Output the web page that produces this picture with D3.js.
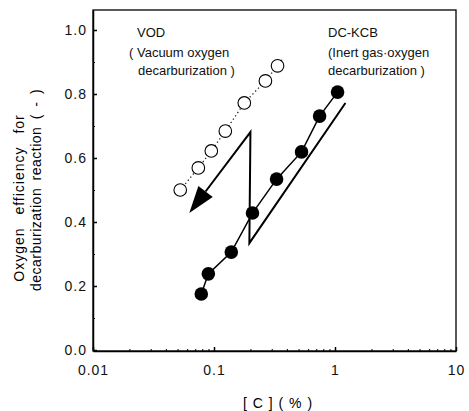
<!DOCTYPE html>
<meta charset="utf-8">
<style>
body { margin: 0; background: #fff; font-family: Arial, "Liberation Sans", Helvetica, sans-serif; }
.axis path, .axis line { fill: none; stroke: #000; stroke-width: 1.5; }
.axis text { font-size: 14px; letter-spacing: 1px; fill: #111; }
.minor line { stroke-width: 1; }
.minor path { display: none; }
.note { font-size: 13px; fill: #111; }
</style>
<body>
<script src="https://d3js.org/d3.v7.min.js"></script>
<script>

// VOD (open circles)
var vodC = [0.0526, 0.0742, 0.095, 0.124, 0.178, 0.266, 0.335];
var vodEff = [0.50, 0.569, 0.622, 0.684, 0.772, 0.841, 0.888];

// DC-KCB (filled circles)
var kcbC = [0.0785, 0.0898, 0.139, 0.208, 0.329, 0.529, 0.746, 1.05];
var kcbEff = [0.175, 0.238, 0.306, 0.428, 0.534, 0.619, 0.731, 0.806];

// the Z shaped arrow, in data units
var arrowC = [1.22, 0.196, 0.2, 0.0625];
var arrowEff = [0.772, 0.334, 0.681, 0.428];

var xTicks = [0.01, 0.1, 1, 10];
var xTickLabels = ["0.01", "0.1", "1", "10"];
var yTicks = [0, 0.2, 0.4, 0.6, 0.8, 1.0];
var yTickLabels = ["0.0", "0.2", "0.4", "0.6", "0.8", "1.0"];

var width = 469, height = 411;
var frame = {left: 93, right: 456, top: 10, bottom: 351};

var x = d3.scaleLog().domain([0.01, 10]).range([frame.left, frame.right]);
var y = d3.scaleLinear().domain([0, 1.0625]).range([350, frame.top]);

var svg = d3.select("body").append("svg")
    .attr("width", width)
    .attr("height", height);

// frame
svg.append("rect")
    .attr("x", frame.left).attr("y", frame.top)
    .attr("width", frame.right - frame.left).attr("height", frame.bottom - frame.top)
    .attr("fill", "none").attr("stroke", "#000").attr("stroke-width", 1.3);

// minor ticks
var minorX = [];
[0.01, 0.1, 1].forEach(function(d) {
  for (var k = 2; k < 10; k++) minorX.push(d * k);
});
svg.append("g")
    .attr("class", "axis minor")
    .attr("transform", "translate(0," + frame.bottom + ")")
    .call(d3.axisBottom(x).tickValues(minorX).tickSize(-2).tickFormat(""));
svg.append("g")
    .attr("class", "axis minor")
    .attr("transform", "translate(" + frame.left + ",0)")
    .call(d3.axisLeft(y).tickValues([0.1, 0.3, 0.5, 0.7, 0.9]).tickSize(-2).tickFormat(""));

// axes
svg.append("g")
    .attr("class", "axis")
    .attr("transform", "translate(0," + frame.bottom + ")")
    .call(d3.axisBottom(x).tickValues(xTicks).tickSizeInner(-4).tickSizeOuter(0).tickPadding(14)
      .tickFormat(function(d, i) { return xTickLabels[i]; }));
svg.append("g")
    .attr("class", "axis")
    .attr("transform", "translate(" + frame.left + ",0)")
    .call(d3.axisLeft(y).tickValues(yTicks).tickSizeInner(-4).tickSizeOuter(0).tickPadding(6)
      .tickFormat(function(d, i) { return yTickLabels[i]; }));

// lines
var vod = vodC.map(function(c, i) { return [c, vodEff[i]]; });
var kcb = kcbC.map(function(c, i) { return [c, kcbEff[i]]; });
var line = d3.line().x(function(d) { return x(d[0]); }).y(function(d) { return y(d[1]); });

svg.append("path")
    .attr("d", line(vod.concat([[0.37, 0.91]])))
    .attr("fill", "none").attr("stroke", "#222")
    .attr("stroke-width", 1.3).attr("stroke-dasharray", "1.3,2.7");
svg.append("path")
    .attr("d", line(kcb))
    .attr("fill", "none").attr("stroke", "#000").attr("stroke-width", 1.5);

// arrow
var arrow = arrowC.map(function(c, i) { return [c, arrowEff[i]]; });
var tip = arrow[arrow.length - 1], prev = arrow[arrow.length - 2];
var tx = x(tip[0]), ty = y(tip[1]), px = x(prev[0]), py = y(prev[1]);
var dx = tx - px, dy = ty - py, len = Math.sqrt(dx * dx + dy * dy);
var ux = dx / len, uy = dy / len;
var headL = 27, headW = 9;
var bx = tx - ux * headL, by = ty - uy * headL;
svg.append("path")
    .attr("d", "M" + x(arrow[0][0]) + "," + y(arrow[0][1]) +
      "L" + x(arrow[1][0]) + "," + y(arrow[1][1]) +
      "L" + x(arrow[2][0]) + "," + y(arrow[2][1]) +
      "L" + bx + "," + by)
    .attr("fill", "none").attr("stroke", "#000").attr("stroke-width", 2)
    .attr("stroke-linejoin", "miter");
svg.append("path")
    .attr("d", "M" + tx + "," + ty +
      "L" + (bx - uy * headW) + "," + (by + ux * headW) +
      "L" + (bx + uy * headW) + "," + (by - ux * headW) + "Z")
    .attr("fill", "#000");

// points
svg.selectAll(".vod")
  .data(vod)
  .enter().append("circle")
    .attr("class", "vod")
    .attr("cx", function(d) { return x(d[0]); })
    .attr("cy", function(d) { return y(d[1]); })
    .attr("r", 6.3)
    .attr("fill", "#fff").attr("stroke", "#000").attr("stroke-width", 1.1);
svg.selectAll(".kcb")
  .data(kcb)
  .enter().append("circle")
    .attr("class", "kcb")
    .attr("cx", function(d) { return x(d[0]); })
    .attr("cy", function(d) { return y(d[1]); })
    .attr("r", 6.8)
    .attr("fill", "#000");

// annotations
var notes = [
  [137, 37, "VOD"],
  [129, 57, "( Vacuum oxygen"],
  [138, 75, "decarburization )"],
  [328, 37, "DC-KCB"],
  [328, 57, "(Inert gas\u00b7oxygen"],
  [328, 75, "decarburization )"]
];
svg.selectAll(".note")
  .data(notes)
  .enter().append("text")
    .attr("class", "note")
    .attr("x", function(d) { return d[0]; })
    .attr("y", function(d) { return d[1]; })
    .text(function(d) { return d[2]; });

// axis titles
svg.append("text")
    .attr("x", 278).attr("y", 408)
    .attr("text-anchor", "middle")
    .style("font-size", "14px").style("letter-spacing", "1px")
    .text("[ C ] ( % )");
var yt = svg.append("text")
    .attr("transform", "translate(0,192) rotate(-90)")
    .attr("text-anchor", "middle")
    .style("font-size", "14px");
yt.append("tspan").attr("x", -6).attr("y", 24)
    .style("letter-spacing", "1px").style("word-spacing", "8px")
    .text("Oxygen efficiency for");
yt.append("tspan").attr("x", 2).attr("y", 41)
    .style("letter-spacing", "0.5px").style("word-spacing", "3px")
    .text("decarburization reaction ( - )");

</script>
</body>
